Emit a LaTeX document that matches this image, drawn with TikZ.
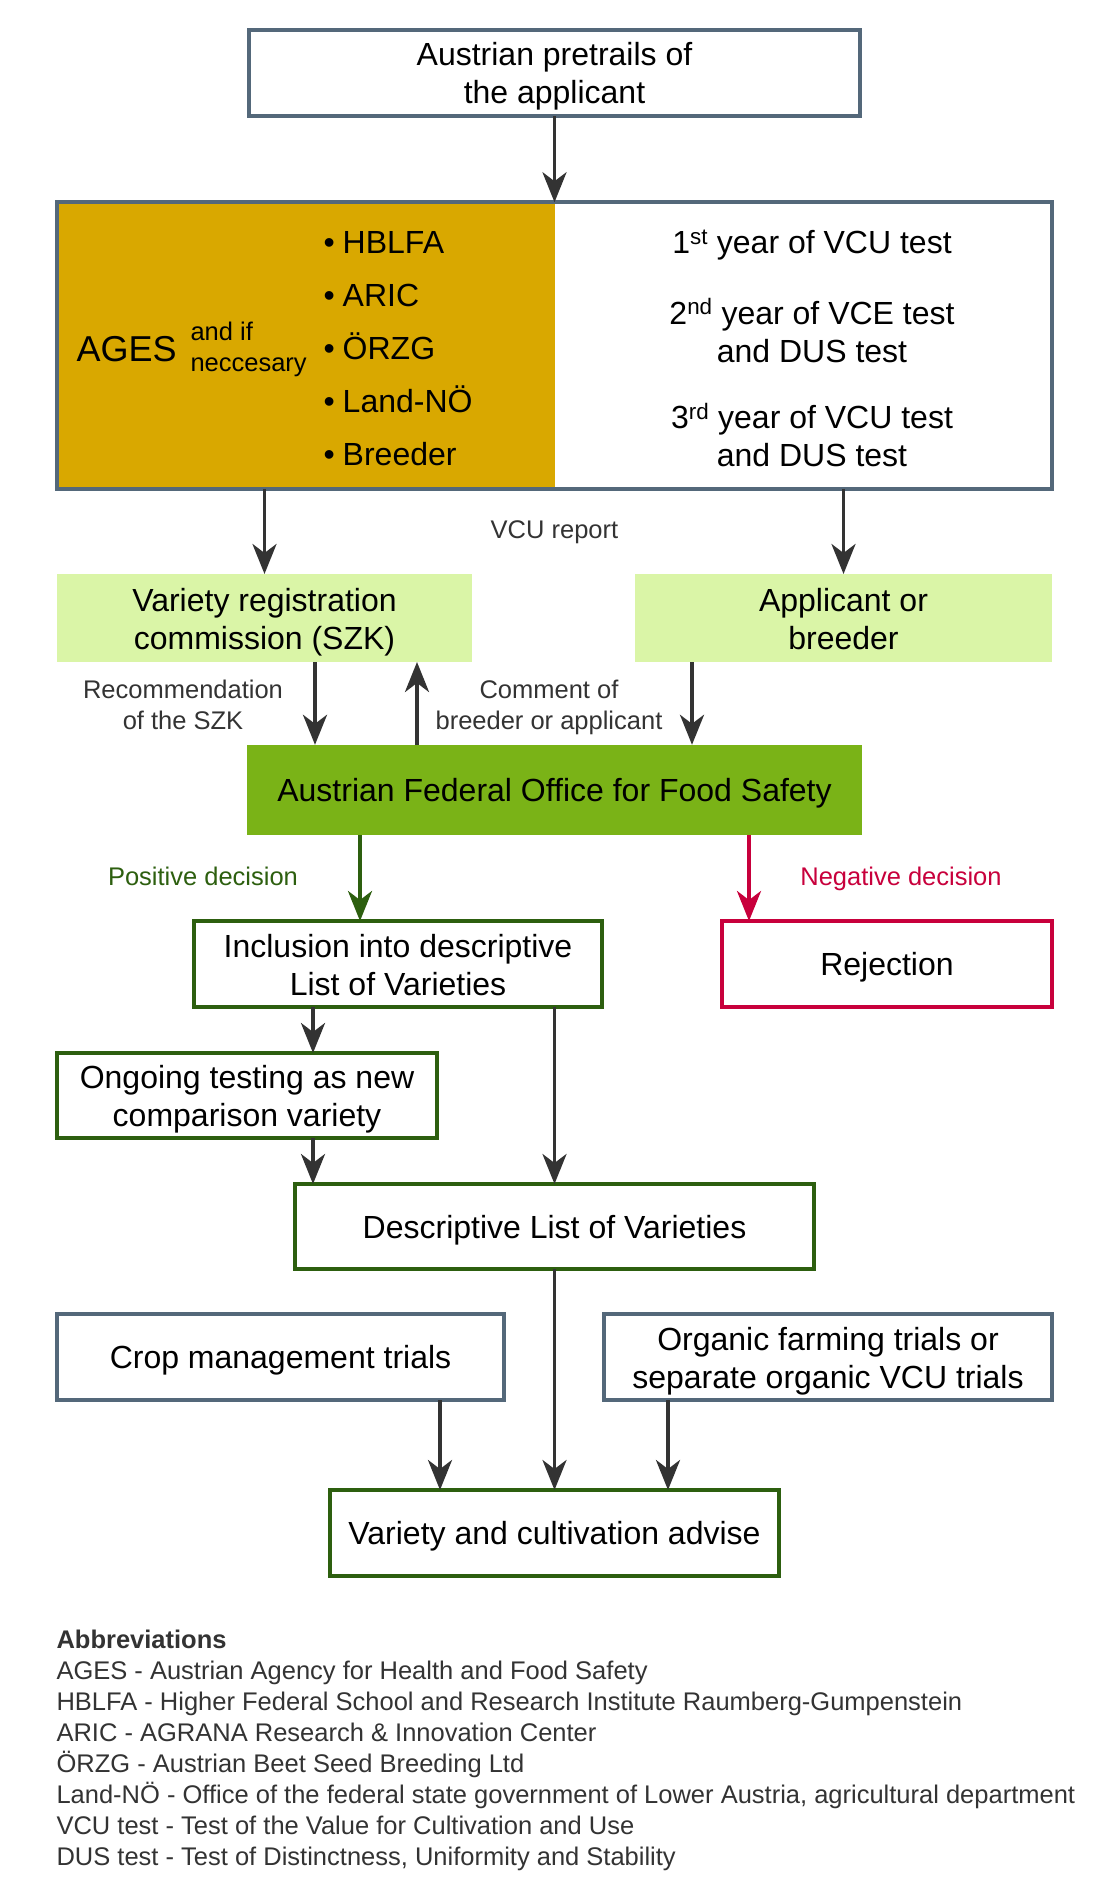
\documentclass[tikz,border=0pt]{standalone}
\usepackage{fontspec}
\setmainfont{Liberation Sans}
\usetikzlibrary{positioning,arrows.meta,backgrounds}

\definecolor{slate}{RGB}{84,104,122}
\definecolor{gold}{RGB}{217,168,0}
\definecolor{lightgreen}{RGB}{218,245,167}
\definecolor{officegreen}{RGB}{122,179,23}
\definecolor{darkgreen}{RGB}{45,95,15}
\definecolor{rejectred}{RGB}{200,0,60}
\definecolor{arrowgray}{RGB}{51,51,51}

% strut that centres the capitals of one line in a node
\newcommand\bigstrut{\rule[-7.5pt]{0pt}{38pt}}
\newcommand\smallstrut{\rule[-6.5pt]{0pt}{31pt}}

\tikzset{
  bigtext/.style={font=\fontsize{32}{38}\selectfont,execute at begin node=\bigstrut,execute at end node=\bigstrut},
  smalltext/.style={font=\fontsize{25.5}{31}\selectfont,execute at begin node=\smallstrut,execute at end node=\smallstrut},
  twolines/.style={text height=62pt,text depth=0pt},
  smalltwolines/.style={text height=49.5pt,text depth=0pt},
  framed/.style={draw=slate,line width=4pt,inner sep=0pt,outer sep=0pt,align=center,bigtext},
  greenframed/.style={framed,draw=darkgreen},
  redframed/.style={framed,draw=rejectred},
  filled/.style={fill=lightgreen,inner sep=0pt,outer sep=0pt,align=center,bigtext},
  arrow/.style={draw=arrowgray,line width=3.8pt,-{Stealth[length=30pt,width=24pt,inset=9pt]}},
  label/.style={smalltext,text=arrowgray,align=center},
  listitem/.style={font=\fontsize{32}{38}\selectfont,anchor=base west},
  abbr/.style={font=\fontsize{25.5}{31}\selectfont,text=arrowgray,anchor=base west}
}

\begin{document}
\begin{tikzpicture}[x=1pt,y=-1pt]
    \useasboundingbox (0,0) rectangle (1110,1881);
    \node[framed,twolines,minimum width=611pt,minimum height=86pt] (pretrials) at (554.5,73) {Austrian pretrails of\\the applicant};
    \node[framed,line width=4.5pt,minimum width=995pt,minimum height=286.5pt] (tests) [below=86.25pt of pretrials] {};
    \node[filled,twolines,minimum width=415pt,minimum height=88pt] (szk) [below=85.25pt of tests.south west,anchor=north west] {Variety registration\\commission (SZK)};
    \node[filled,twolines,minimum width=417pt,minimum height=88pt] (applicant) [below=85.25pt of tests.south east,anchor=north east] {Applicant or\\breeder};
    \node[fill=officegreen,inner sep=0pt,bigtext,minimum width=615pt,minimum height=90pt] (office) at (554.5,790) {Austrian Federal Office for Food Safety};
    \node[greenframed,twolines,minimum width=408pt,minimum height=86pt] (inclusion) at (398,964) {Inclusion into descriptive\\List of Varieties};
    \node[redframed,minimum width=330pt,minimum height=86pt] (rejection) at (887,964) {Rejection};
    \node[greenframed,twolines,minimum width=380pt,minimum height=85pt] (ongoing) at (247,1095.5) {Ongoing testing as new\\comparison variety};
    \node[greenframed,minimum width=519pt,minimum height=85pt] (list) at (554.5,1226.5) {Descriptive List of Varieties};
    \node[framed,minimum width=447pt,minimum height=86pt] (crop) at (280.5,1357) {Crop management trials};
    \node[framed,twolines,minimum width=448pt,minimum height=86pt] (organic) at (828,1357) {Organic farming trials or\\separate organic VCU trials};
    \node[greenframed,minimum width=449pt,minimum height=86pt] (advise) at (554.5,1533) {Variety and cultivation advise};

    % gold half of the test box
    \begin{scope}[on background layer]
        \fill[white] (0,0) rectangle (1110,1881);
        \fill[gold] (tests.north west) rectangle (tests.south);
    \end{scope}

    % inside the test box
    \node[anchor=base west,font=\fontsize{36}{40}\selectfont] (ages) at (73,361) {AGES};
    \node[smalltext,smalltwolines,anchor=west,align=left] (ifneeded) at (187,347) {and if\\neccesary};
    \foreach \org [count=\i from 0] in {HBLFA,ARIC,ÖRZG,Land-NÖ,Breeder}
        \node[listitem] (org\i) at (320,253.5+53*\i) {\textbullet\hspace{8pt}\org};
    \node[bigtext] (year1) at (812,242) {1\textsuperscript{st} year of VCU test};
    \node[bigtext,twolines,align=center] (year2) at (812,331) {2\textsuperscript{nd} year of VCE test\\and DUS test};
    \node[bigtext,twolines,align=center] (year3) at (812,435.5) {3\textsuperscript{rd} year of VCU test\\and DUS test};

    % connectors
    \draw[arrow] (pretrials) -- (tests);
    \draw[arrow] (tests.south -| szk) -- (szk);
    \draw[arrow] (tests.south -| applicant) -- (applicant);
    \node[label] (vcu) at (554.5,529) {VCU report};

    \draw[arrow] ([xshift=50.5pt]szk.south) -- ([xshift=50.5pt]szk.south |- office.north);
    \draw[arrow] ([xshift=152.5pt]szk.south |- office.north) -- ([xshift=152.5pt]szk.south);
    \draw[arrow] ([xshift=-151.5pt]applicant.south) -- ([xshift=-151.5pt]applicant.south |- office.north);
    \node[label,smalltwolines] (recommend) at (183,704.5) {Recommendation\\of the SZK};
    \node[label,smalltwolines] (comment) at (549,704.5) {Comment of\\breeder or applicant};

    \draw[arrow,draw=darkgreen] ([xshift=-194.5pt]office.south) -- ([xshift=-194.5pt]office.south |- inclusion.north);
    \draw[arrow,draw=rejectred] ([xshift=194.5pt]office.south) -- ([xshift=194.5pt]office.south |- rejection.north);
    \node[label,text=darkgreen] (positive) at (203,876) {Positive decision};
    \node[label,text=rejectred] (negative) at (901,876) {Negative decision};

    \draw[arrow] ([xshift=66pt]ongoing.north |- inclusion.south) -- ([xshift=66pt]ongoing.north);
    \draw[arrow] ([xshift=66pt]ongoing.south) -- ([xshift=66pt]ongoing.south |- list.north);
    \draw[arrow] (inclusion.south -| list) -- (list);

    \draw[arrow] (list) -- (advise);
    \draw[arrow] ([xshift=159.5pt]crop.south) -- ([xshift=159.5pt]crop.south |- advise.north);
    \draw[arrow] ([xshift=-160pt]organic.south) -- ([xshift=-160pt]organic.south |- advise.north);

    % abbreviations
    \node[abbr,font=\fontsize{25.5}{31}\selectfont\bfseries] (abbrhead) at (53,1648) {Abbreviations};
    \foreach \txt [count=\i] in {AGES - Austrian Agency for Health and Food Safety,
        HBLFA - Higher Federal School and Research Institute Raumberg-Gumpenstein,
        ARIC - AGRANA Research \& Innovation Center,
        ÖRZG - Austrian Beet Seed Breeding Ltd,
        {Land-NÖ - Office of the federal state government of Lower Austria, agricultural department},
        VCU test - Test of the Value for Cultivation and Use,
        {DUS test - Test of Distinctness, Uniformity and Stability}}
        \node[abbr] (abbr\i) at (53,1648+31*\i) {\txt};
\end{tikzpicture}
\end{document}
